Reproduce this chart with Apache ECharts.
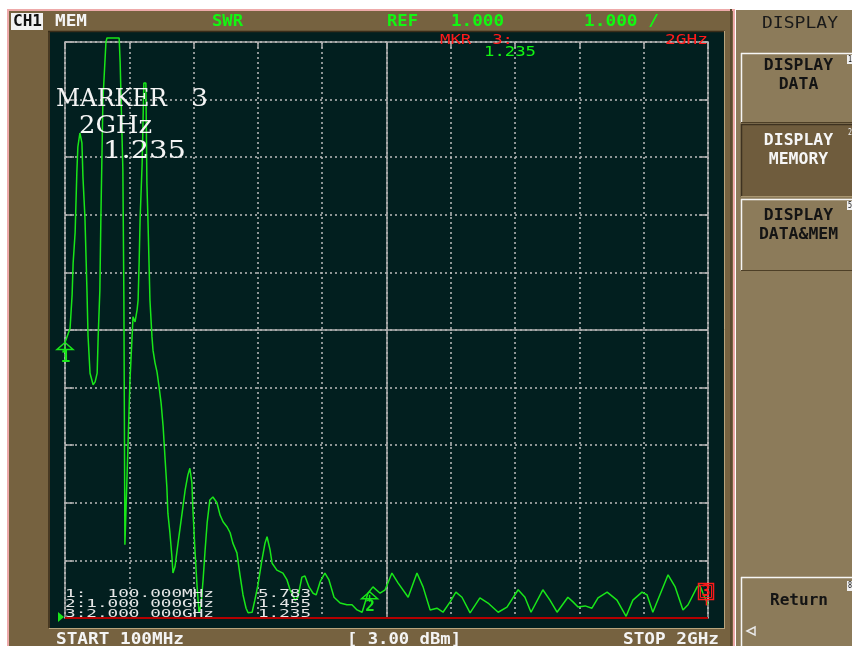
<!DOCTYPE html>
<html>
<head>
<meta charset="utf-8">
<script src="https://cdn.jsdelivr.net/npm/echarts@6/dist/echarts.min.js"></script>
<style>
  html, body { margin: 0; padding: 0; background: #ffffff; }
  #chart { width: 852px; height: 646px; }
</style>
</head>
<body>
<div id="chart"></div>
<script>
// Sweep of SWR versus frequency (memory trace), 100 MHz .. 2 GHz
const freqMHz = [
  100, 115, 121, 124, 130, 135, 138, 144, 150, 153,
  159, 165, 168, 174, 183, 189, 195, 198, 203, 206,
  212, 221, 224, 260, 263, 271, 274, 277, 283, 292,
  301, 307, 313, 316, 319, 322, 328, 333, 339, 342,
  345, 351, 357, 360, 366, 372, 378, 384, 390, 396,
  401, 404, 410, 416, 419, 425, 434, 446, 455, 463,
  469, 475, 478, 484, 490, 496, 502, 508, 514, 520,
  528, 537, 549, 558, 567, 579, 588, 596, 608, 617,
  626, 635, 641, 653, 661, 670, 682, 691, 697, 706,
  712, 726, 744, 756, 765, 780, 788, 800, 809, 821,
  833, 842, 854, 868, 880, 895, 913, 933, 948, 963,
  978, 995, 1000, 1010, 1031, 1046, 1066, 1084, 1114, 1140,
  1158, 1179, 1199, 1217, 1238, 1255, 1273, 1297, 1326, 1350,
  1380, 1406, 1439, 1459, 1477, 1512, 1533, 1554, 1586, 1601,
  1616, 1637, 1657, 1675, 1702, 1731, 1758, 1778, 1805, 1820,
  1837, 1864, 1882, 1903, 1926, 1941, 1968, 1976, 1985, 2000
];
const swr = [
  5.783, 6.03, 6.61, 7.16, 7.70, 8.74, 9.18, 9.42, 9.25, 8.66,
  7.94, 6.66, 5.91, 5.25, 5.05, 5.10, 5.25, 5.88, 6.69, 7.94,
  9.99, 11.0, 11.07, 11.07, 10.64, 8.78, 6.52, 2.27, 3.40, 5.13,
  6.23, 6.14, 6.35, 6.52, 7.16, 7.94, 8.90, 10.29, 10.29, 8.55,
  7.94, 6.52, 5.88, 5.65, 5.43, 5.27, 5.01, 4.73, 4.32, 3.74,
  3.27, 2.82, 2.48, 2.06, 1.78, 1.89, 2.30, 2.82, 3.22, 3.48,
  3.60, 3.34, 2.88, 2.18, 1.57, 1.10, 1.23, 1.66, 2.18, 2.65,
  3.05, 3.10, 3.00, 2.79, 2.67, 2.58, 2.48, 2.30, 2.13, 1.75,
  1.40, 1.17, 1.09, 1.10, 1.31, 1.57, 2.01, 2.30, 2.41, 2.18,
  1.95, 1.83, 1.78, 1.66, 1.49, 1.31, 1.36, 1.71, 1.73, 1.54,
  1.43, 1.40, 1.63, 1.78, 1.66, 1.36, 1.26, 1.23, 1.23, 1.14,
  1.10, 1.43, 1.455, 1.54, 1.43, 1.49, 1.78, 1.61, 1.36, 1.78,
  1.54, 1.14, 1.17, 1.10, 1.28, 1.45, 1.36, 1.09, 1.35, 1.26,
  1.10, 1.19, 1.49, 1.36, 1.10, 1.49, 1.31, 1.10, 1.36, 1.28,
  1.19, 1.21, 1.17, 1.35, 1.45, 1.31, 1.03, 1.31, 1.45, 1.40,
  1.10, 1.49, 1.75, 1.54, 1.14, 1.23, 1.54, 1.57, 1.43, 1.235
];

// Markers (frequency in MHz, SWR reading)
const markerFreqMHz = [100, 1000, 2000];
const markerSWR = [5.783, 1.455, 1.235];
const activeMarker = 2;

// Sweep / display settings
const startMHz = 100;
const stopMHz = 2000;
const refValue = 1.0;
const scalePerDiv = 1.0;
const divisions = 10;
const powerText = '[ 3.00 dBm]';
const formatName = 'SWR';
const channelName = 'CH1';
const traceName = 'MEM';

// Soft key menu
const menuTitle = 'DISPLAY';
const menuKeys = [['DISPLAY', 'DATA'], ['DISPLAY', 'MEMORY'], ['DISPLAY', 'DATA&MEM']];
const menuTags = ['1', '2', '5'];
const returnKey = 'Return';
const returnTag = '8';

const GREEN = '#19e619';
const BRIGHT = '#12f712';
const RED = '#ff1a1a';
const MONO = '"DejaVu Sans Mono", monospace';
const SERIF = '"DejaVu Serif", serif';

function fmtShort(f) {
  return f >= 1000 ? (f / 1000) + 'GHz' : f + 'MHz';
}
function fmtMarkerFreq(f) {
  if (f < 1000) return ('        ' + f.toFixed(3)).slice(-9) + 'MHz';
  const g = (f / 1000).toFixed(6);
  return g.slice(0, 5) + ' ' + g.slice(5) + 'GHz';
}

// Text stretched horizontally to span x0..x1 (bitmap-style instrument font look)
const mctx = document.createElement('canvas').getContext('2d');
function fitText(str, x0, x1, cy, size, color, weight, family, z) {
  const font = weight + ' ' + size + 'px ' + family;
  mctx.font = font;
  const w = mctx.measureText(str).width;
  return {
    type: 'text', x: x0, y: cy, scaleX: (x1 - x0) / w, z: z == null ? 100 : z, silent: true,
    style: { text: str, font: font, fill: color, textAlign: 'left', textVerticalAlign: 'middle', align: 'left', verticalAlign: 'middle' }
  };
}
function rect(x, y, w, h, fill, z) {
  return { type: 'rect', shape: { x: x, y: y, width: w, height: h }, style: { fill: fill }, z: z == null ? -10 : z, silent: true };
}
function hline(x1, x2, y, color, width, z) {
  return { type: 'line', shape: { x1: x1, y1: y, x2: x2, y2: y }, style: { stroke: color, lineWidth: width }, z: z == null ? -9 : z, silent: true };
}
function vline(x, y1, y2, color, width, z) {
  return { type: 'line', shape: { x1: x, y1: y1, x2: x, y2: y2 }, style: { stroke: color, lineWidth: width }, z: z == null ? -9 : z, silent: true };
}

const g = [];
// instrument bezel
g.push(rect(7, 9, 728, 640, '#766240'));
g.push(vline(8, 9, 646, '#eeaaaa', 2));
g.push(hline(7, 735, 10, '#eeaaaa', 2));
g.push(vline(734, 9, 646, '#eeaaaa', 2));
g.push(vline(731, 9, 646, '#5b4a2f', 2));
// screen
g.push(rect(50, 32, 674, 596, '#021f1f'));
g.push(hline(48, 725, 31.5, '#3a2d19', 1.5));
g.push(vline(49, 31, 628, '#3a2d19', 1.5));
g.push(hline(49, 725, 628.5, '#b8a47c', 1));
g.push(vline(724.5, 31, 628, '#b8a47c', 1));

// header line
g.push(rect(11, 13, 32, 17, '#f2f2f2', 90));
g.push(fitText(channelName, 13, 42, 21.5, 16, '#111111', 'bold', MONO));
g.push(fitText(traceName, 55, 87, 21.5, 16, '#f4f4f4', 'bold', MONO));
g.push(fitText(formatName, 212, 243, 21.5, 16, BRIGHT, 'bold', MONO));
g.push(fitText('REF', 387, 418, 21.5, 16, BRIGHT, 'bold', MONO));
g.push(fitText(refValue.toFixed(3), 451, 504, 21.5, 16, BRIGHT, 'bold', MONO));
g.push(fitText(scalePerDiv.toFixed(3) + ' /', 584, 659, 21.5, 16, BRIGHT, 'bold', MONO));

// active marker readout (top)
const am = activeMarker;
g.push(fitText('MKR  ' + (am + 1) + ':', 440, 513, 40, 14, RED, 'normal', MONO));
g.push(fitText(fmtShort(markerFreqMHz[am]), 665, 708, 40, 14, RED, 'normal', MONO));
g.push(fitText(markerSWR[am].toFixed(3), 484, 536, 52, 14, BRIGHT, 'normal', MONO));

// large marker annotation
g.push(fitText('MARKER', 56, 167, 99, 25, '#f4f4f4', 'normal', SERIF));
g.push(fitText(String(am + 1), 191, 208, 99, 25, '#f4f4f4', 'normal', SERIF));
g.push(fitText(fmtShort(markerFreqMHz[am]), 79, 152, 126.5, 25, '#f4f4f4', 'normal', SERIF));
g.push(fitText(markerSWR[am].toFixed(3), 103, 186, 151, 25, '#f4f4f4', 'normal', SERIF));

// marker table
const rowY = [594, 604, 614.5];
markerFreqMHz.forEach(function (f, i) {
  g.push(fitText((i + 1) + ':' + fmtMarkerFreq(f), 65, 214, rowY[i], 11, '#e6e6e6', 'normal', MONO));
  g.push(fitText(markerSWR[i].toFixed(3), 258, 311, rowY[i], 11, '#e6e6e6', 'normal', MONO));
});

// status line
g.push(fitText('START ' + fmtShort(startMHz), 56, 184, 639.5, 16, '#f4f4f4', 'bold', MONO));
g.push(fitText(powerText, 347, 461, 639.5, 16, '#f4f4f4', 'bold', MONO));
g.push(fitText('STOP ' + fmtShort(stopMHz), 623, 719, 639.5, 16, '#f4f4f4', 'bold', MONO));

// soft key panel
g.push(rect(736, 10, 116, 636, '#8c7b5a'));
g.push(fitText(menuTitle, 762, 838, 24, 15, '#1a1a1a', 'normal', MONO));
const keyBoxes = [[53, 70], [124, 73], [199, 72]];
const keyY = [[66, 85], [141, 160], [216, 235]];
menuKeys.forEach(function (lines, i) {
  const y = keyBoxes[i][0], h = keyBoxes[i][1];
  const selected = i === 1;
  g.push(rect(741, y, 111, h, selected ? '#6f5c3d' : '#8c7b5a', -8));
  g.push(hline(741, 852, y + 0.5, selected ? '#3e3220' : '#f6f6f6', 1.5, -7));
  g.push(vline(741.5, y, y + h, selected ? '#3e3220' : '#f6f6f6', 1.5, -7));
  g.push(hline(741, 852, y + h - 0.5, selected ? '#a89570' : '#4d3f27', 1, -7));
  const col = selected ? '#f6f6f6' : '#141414';
  lines.forEach(function (s, j) {
    const w = s.length * 9.9;
    g.push(fitText(s, 798.5 - w / 2, 798.5 + w / 2, keyY[i][j], 15, col, 'bold', MONO));
  });
  if (selected) {
    g.push(fitText(menuTags[i], 848, 852, 133, 8, '#f0f0f0', 'normal', MONO));
  } else {
    g.push(rect(847, y + 2, 6, 9, '#f0f0f0', 90));
    g.push(fitText(menuTags[i], 848, 852, y + 6.5, 8, '#111111', 'normal', MONO));
  }
});
g.push(rect(741, 577, 111, 69, '#8c7b5a', -8));
g.push(hline(741, 852, 577.5, '#f6f6f6', 1.5, -7));
g.push(vline(741.5, 577, 646, '#f6f6f6', 1.5, -7));
g.push(fitText(returnKey, 770, 828, 600.5, 16, '#141414', 'bold', MONO));
g.push(rect(847, 581, 6, 10, '#f0f0f0', 90));
g.push(fitText(returnTag, 848, 852, 586, 8, '#111111', 'normal', MONO));
g.push({ type: 'polygon', shape: { points: [[747, 631], [755, 627], [755, 635]] }, style: { fill: 'none', stroke: '#e8e8e8', lineWidth: 1.5 }, z: 90, silent: true });

const dotted = { color: '#bdbdbd', width: 1.5, type: [2, 3] };
const tickStyle = { color: '#b0b0b0', width: 1.5 };

const chart = echarts.init(document.getElementById('chart'), null, { renderer: 'canvas' });
chart.setOption({
  animation: false,
  backgroundColor: '#ffffff',
  graphic: { elements: g },
  grid: {
    left: 65, top: 42, width: 643, height: 576,
    show: true, borderColor: '#aaaaaa', borderWidth: 1.5, backgroundColor: 'transparent',
    containLabel: false, outerBoundsMode: 'none'
  },
  xAxis: [
    { type: 'value', min: startMHz, max: stopMHz, show: false },
    {
      type: 'value', min: 0, max: divisions, interval: 1, position: 'top',
      axisLine: { show: false }, axisLabel: { show: false },
      axisTick: { show: true, inside: true, length: 6, lineStyle: tickStyle },
      splitLine: { show: true, lineStyle: dotted }
    }
  ],
  yAxis: [
    {
      type: 'value', min: refValue, max: refValue + divisions * scalePerDiv, interval: scalePerDiv,
      axisLine: { show: false }, axisLabel: { show: false },
      axisTick: { show: true, inside: true, length: 9, lineStyle: tickStyle },
      splitLine: { show: true, lineStyle: dotted }
    },
    {
      type: 'value', min: refValue, max: refValue + divisions * scalePerDiv, interval: scalePerDiv, position: 'right',
      axisLine: { show: false }, axisLabel: { show: false },
      axisTick: { show: true, inside: true, length: 9, lineStyle: tickStyle },
      splitLine: { show: false }
    }
  ],
  series: [
    {
      // centre graticule lines
      type: 'line', xAxisIndex: 1, yAxisIndex: 0, data: [[5, 6]], showSymbol: false, silent: true,
      lineStyle: { opacity: 0 },
      markLine: {
        silent: true, symbol: 'none', label: { show: false },
        lineStyle: { color: '#b0b0b0', type: 'solid', width: 1.5 },
        data: [{ xAxis: divisions / 2 }, { yAxis: divisions / 2 + refValue }]
      }
    },
    {
      type: 'line', xAxisIndex: 0, yAxisIndex: 0, z: 5,
      data: freqMHz.map(function (f, i) { return [f, swr[i]]; }),
      showSymbol: false, clip: false, silent: true,
      lineStyle: { color: GREEN, width: 1.5 },
      markLine: {
        silent: true, symbol: 'none', label: { show: false }, z: 6,
        lineStyle: { color: '#b30000', type: 'solid', width: 2 },
        data: [{ yAxis: refValue }]
      }
    },
    {
      // marker symbols
      type: 'custom', xAxisIndex: 0, yAxisIndex: 0, z: 20, clip: false, silent: true,
      data: markerFreqMHz.map(function (f, i) { return [f, markerSWR[i]]; }),
      renderItem: function (params, api) {
        const p = api.coord([api.value(0), api.value(1)]);
        const x = p[0], y = p[1];
        const n = String(params.dataIndex + 1);
        if (params.dataIndex === activeMarker) {
          return {
            type: 'group', children: [
              { type: 'rect', shape: { x: x - 9.5, y: y - 21, width: 15, height: 16 }, style: { fill: 'none', stroke: RED, lineWidth: 1.5 } },
              { type: 'rect', shape: { x: x - 7.5, y: y - 19, width: 11, height: 12 }, style: { fill: 'none', stroke: RED, lineWidth: 1 } },
              { type: 'line', shape: { x1: x - 1.5, y1: y - 5, x2: x - 1.5, y2: y + 1 }, style: { stroke: RED, lineWidth: 1.5 } },
              { type: 'text', x: x - 2, y: y - 12.5, style: { text: n, fill: RED, font: 'bold 15px ' + MONO, textAlign: 'center', textVerticalAlign: 'middle', align: 'center', verticalAlign: 'middle' } }
            ]
          };
        }
        return {
          type: 'group', children: [
            { type: 'polygon', shape: { points: [[x, y], [x - 8, y + 7], [x + 8, y + 7]] }, style: { fill: 'none', stroke: GREEN, lineWidth: 1.5 } },
            { type: 'line', shape: { x1: x, y1: y + 3, x2: x, y2: y + 10 }, style: { stroke: GREEN, lineWidth: 1.5 } },
            { type: 'text', x: x + 0.5, y: y + 15, style: { text: n, fill: GREEN, font: 'bold 16px ' + MONO, textAlign: 'center', textVerticalAlign: 'middle', align: 'center', verticalAlign: 'middle' } }
          ]
        };
      }
    },
    {
      // reference position pointer
      type: 'custom', xAxisIndex: 0, yAxisIndex: 0, z: 20, clip: false, silent: true,
      data: [[startMHz, refValue]],
      renderItem: function (params, api) {
        const p = api.coord([api.value(0), api.value(1)]);
        return {
          type: 'polygon',
          shape: { points: [[p[0] - 1, p[1] - 1], [p[0] - 7, p[1] - 6], [p[0] - 7, p[1] + 4]] },
          style: { fill: GREEN }
        };
      }
    }
  ]
});
</script>
</body>
</html>
